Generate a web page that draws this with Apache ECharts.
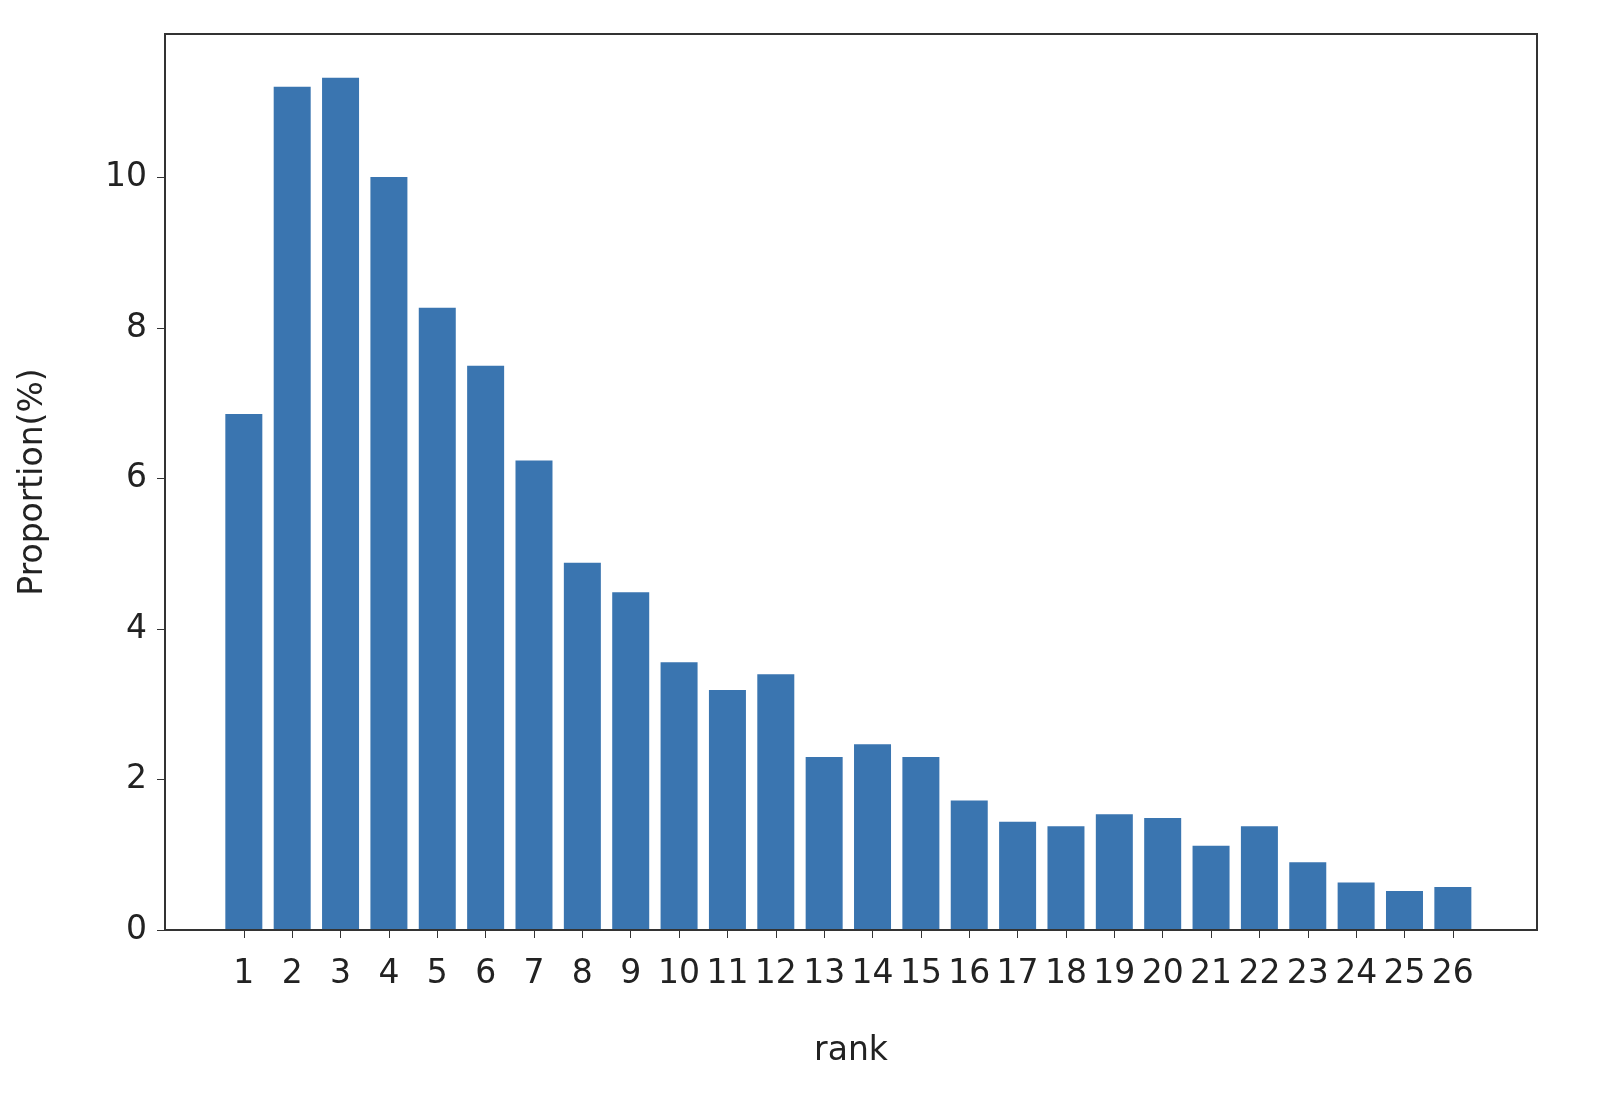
<!DOCTYPE html>
<html><head><meta charset="utf-8">
<script src="https://cdn.jsdelivr.net/npm/echarts@6/dist/echarts.min.js"></script>
<style>html,body{margin:0;background:#fff}#c{width:1601px;height:1102px}</style>
</head><body><div id="c"></div>
<script>
const ranks = [1,2,3,4,5,6,7,8,9,10,11,12,13,14,15,16,17,18,19,20,21,22,23,24,25,26];
const proportions = [6.86,11.21,11.33,10.01,8.27,7.50,6.24,4.88,4.49,3.56,3.19,3.40,2.30,2.47,2.30,1.72,1.44,1.38,1.54,1.49,1.12,1.38,0.90,0.63,0.52,0.57];
const yTicks = [0,2,4,6,8,10];
const chart = echarts.init(document.getElementById('c'));
const font = {fontFamily:'DejaVu Sans', fontSize:33, color:'#222'};
chart.setOption({
  animation:false,
  grid:{left:165,right:64,top:34,bottom:172},
  xAxis:{type:'value',min:-0.63,max:27.74,name:'rank',nameLocation:'middle',nameGap:105,
    nameTextStyle:font,
    axisLine:{show:true,onZero:false,lineStyle:{color:'#333',width:2}},
    axisTick:{show:true,length:8,lineStyle:{color:'#333'},customValues:ranks},
    axisLabel:Object.assign({customValues:ranks,margin:28},font),
    splitLine:{show:false}},
  yAxis:{type:'value',min:0,max:11.91,name:'Proportion(%)',nameLocation:'middle',nameGap:115,
    nameTextStyle:font,
    axisLine:{show:true,onZero:false,lineStyle:{color:'#333',width:2}},
    axisTick:{show:true,length:8,lineStyle:{color:'#333'},customValues:yTicks},
    axisLabel:Object.assign({customValues:yTicks,margin:18},font),
    splitLine:{show:false}},
  series:[{type:'bar',barWidth:37,itemStyle:{color:'#3a75b0'},
    data:ranks.map((r,i)=>[r,proportions[i]])}],
  graphic:[{type:'rect',shape:{x:165,y:34,width:1372,height:896},style:{fill:'none',stroke:'#333',lineWidth:2},z:100}]
});
</script></body></html>
